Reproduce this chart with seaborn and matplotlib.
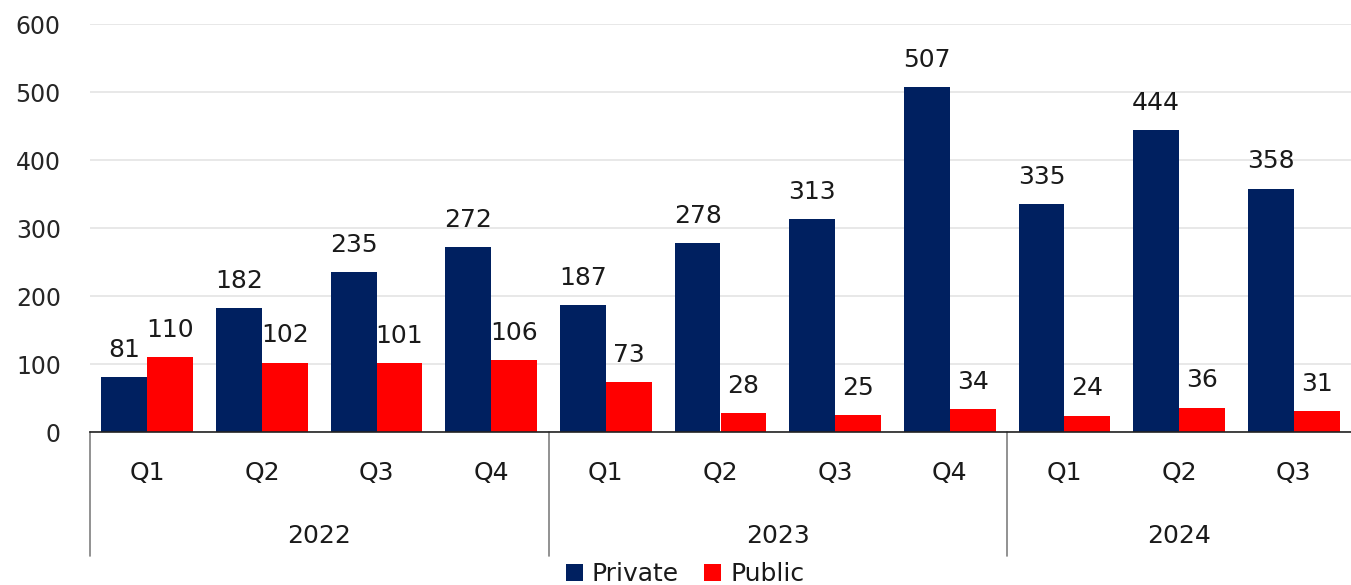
import matplotlib
matplotlib.use("Agg")
import matplotlib.pyplot as plt
from matplotlib.patches import Patch
import numpy as np
import pandas as pd
import seaborn as sns

# Quarterly counts by sector
years = ["2022", "2022", "2022", "2022", "2023", "2023", "2023", "2023", "2024", "2024", "2024"]
quarters = ["Q1", "Q2", "Q3", "Q4", "Q1", "Q2", "Q3", "Q4", "Q1", "Q2", "Q3"]
private = [81, 182, 235, 272, 187, 278, 313, 507, 335, 444, 358]
public = [110, 102, 101, 106, 73, 28, 25, 34, 24, 36, 31]
series_names = ["Private", "Public"]
colors = ["#002060", "#FF0000"]
yticks = [0, 100, 200, 300, 400, 500, 600]

periods = [f"{y} {q}" for y, q in zip(years, quarters)]
df = pd.DataFrame({
    "period": periods * 2,
    "value": private + public,
    "series": [series_names[0]] * len(periods) + [series_names[1]] * len(periods),
})

sns.set_theme(style="white")
plt.rcParams["font.family"] = ["DejaVu Sans"]
text_color = "#1a1a1a"

fig = plt.figure(figsize=(13.51, 5.85), dpi=100)
ax = fig.add_axes([90 / 1351, 153 / 585, 1261 / 1351, 408 / 585])

sns.barplot(data=df, x="period", y="value", hue="series", order=periods,
            hue_order=series_names, palette=colors, saturation=1,
            width=0.8, linewidth=0, ax=ax, legend=False)

# value labels above each bar
for cont in ax.containers:
    ax.bar_label(cont, fmt="%d", padding=11, fontsize=18, color=text_color)

ax.set_ylim(0, 600)
ax.set_yticks(yticks)
ax.set_yticklabels([str(t) for t in yticks], fontsize=17, color="#262626")
ax.yaxis.grid(True, color="#E6E6E6", linewidth=1.3)
ax.set_axisbelow(True)
ax.set_xlim(-0.5, len(periods) - 0.5)
ax.set_xlabel("")
ax.set_ylabel("")

ax.set_xticks(range(len(periods)))
ax.set_xticklabels(quarters, fontsize=18, color=text_color, va="center")
ax.tick_params(axis="x", length=0, pad=29.5)
ax.tick_params(axis="y", length=0, pad=21)

for side in ["top", "right", "left"]:
    ax.spines[side].set_visible(False)
ax.spines["bottom"].set_color("#222222")
ax.spines["bottom"].set_linewidth(1.2)

# year groups: separators and centred labels below the quarter labels
trans = ax.get_xaxis_transform()
group_years = []
for y in years:
    if y not in group_years:
        group_years.append(y)
bounds = [-0.5]
for y in group_years:
    idx = [i for i, yy in enumerate(years) if yy == y]
    bounds.append(idx[-1] + 0.5)
    ax.text(np.mean(idx), -104 / 408, y, transform=trans, ha="center",
            va="center", fontsize=18, color=text_color)
for b in bounds[:-1]:
    ax.plot([b, b], [0, -124 / 408], transform=trans, color="#7f7f7f",
            linewidth=1.2, clip_on=False)

handles = [Patch(facecolor=c, edgecolor="none", label=n)
           for c, n in zip(colors, series_names)]
fig.legend(handles=handles, loc="center", bbox_to_anchor=(685 / 1351, 11 / 585),
           ncol=2, frameon=False, fontsize=18, handlelength=0.7,
           handleheight=0.7, handletextpad=0.35, columnspacing=1.0,
           labelcolor=text_color, borderpad=0)

fig.savefig("out.png", dpi=100)
